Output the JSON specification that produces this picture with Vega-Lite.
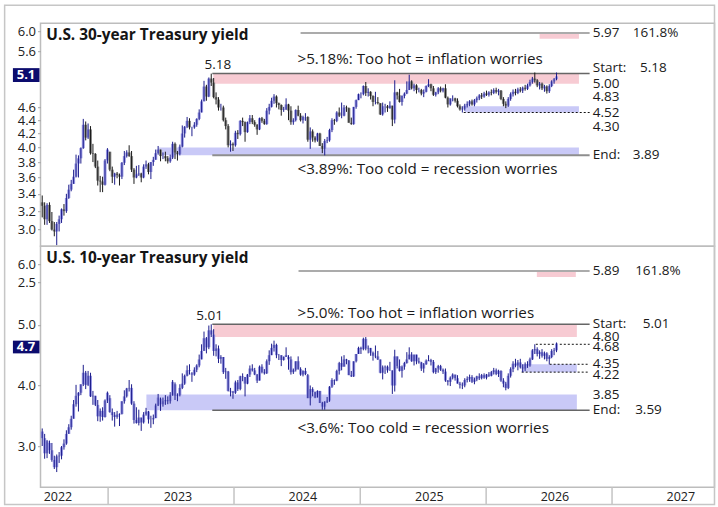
{
  "$schema": "https://vega.github.io/schema/vega-lite/v6.json",
  "padding": {"left": 2.5, "top": 3.2, "right": 4, "bottom": 3},
  "bounds": "flush",
  "spacing": 0,
  "background": "white",
  "config": {
    "view": {"stroke": "#bdbdbd", "strokeWidth": 1.5},
    "font": "Open Sans",
    "text": {"font": "Open Sans", "fontSize": 13.5, "color": "#1a1a1a"}
  },
  "datasets": {
    "t30": [
      {"d":"2022-06-24","o":3.30,"h":3.38,"l":3.13,"c":3.26},
      {"d":"2022-07-01","o":3.26,"h":3.30,"l":3.05,"c":3.11},
      {"d":"2022-07-08","o":3.11,"h":3.29,"l":3.05,"c":3.27},
      {"d":"2022-07-15","o":3.27,"h":3.30,"l":3.07,"c":3.09},
      {"d":"2022-07-22","o":3.09,"h":3.19,"l":2.99,"c":3.00},
      {"d":"2022-07-29","o":3.00,"h":3.08,"l":2.93,"c":2.98},
      {"d":"2022-08-05","o":2.98,"h":3.08,"l":2.84,"c":3.06},
      {"d":"2022-08-12","o":3.06,"h":3.15,"l":2.98,"c":3.11},
      {"d":"2022-08-19","o":3.11,"h":3.23,"l":3.07,"c":3.22},
      {"d":"2022-08-26","o":3.22,"h":3.28,"l":3.15,"c":3.20},
      {"d":"2022-09-02","o":3.20,"h":3.40,"l":3.18,"c":3.35},
      {"d":"2022-09-09","o":3.35,"h":3.51,"l":3.34,"c":3.45},
      {"d":"2022-09-16","o":3.45,"h":3.57,"l":3.43,"c":3.52},
      {"d":"2022-09-23","o":3.52,"h":3.70,"l":3.52,"c":3.61},
      {"d":"2022-09-30","o":3.61,"h":3.90,"l":3.60,"c":3.78},
      {"d":"2022-10-07","o":3.78,"h":3.89,"l":3.60,"c":3.85},
      {"d":"2022-10-14","o":3.85,"h":4.00,"l":3.78,"c":3.99},
      {"d":"2022-10-21","o":3.99,"h":4.42,"l":3.98,"c":4.33},
      {"d":"2022-10-28","o":4.33,"h":4.38,"l":4.10,"c":4.14},
      {"d":"2022-11-04","o":4.14,"h":4.35,"l":4.12,"c":4.26},
      {"d":"2022-11-11","o":4.26,"h":4.31,"l":3.90,"c":3.92},
      {"d":"2022-11-18","o":3.92,"h":4.05,"l":3.80,"c":3.91},
      {"d":"2022-11-25","o":3.91,"h":3.92,"l":3.72,"c":3.74},
      {"d":"2022-12-02","o":3.74,"h":3.82,"l":3.50,"c":3.56},
      {"d":"2022-12-09","o":3.56,"h":3.62,"l":3.42,"c":3.55},
      {"d":"2022-12-16","o":3.55,"h":3.61,"l":3.42,"c":3.51},
      {"d":"2022-12-23","o":3.51,"h":3.84,"l":3.50,"c":3.82},
      {"d":"2022-12-30","o":3.82,"h":3.99,"l":3.78,"c":3.97},
      {"d":"2023-01-06","o":3.94,"h":3.94,"l":3.68,"c":3.70},
      {"d":"2023-01-13","o":3.70,"h":3.74,"l":3.53,"c":3.61},
      {"d":"2023-01-20","o":3.61,"h":3.66,"l":3.51,"c":3.65},
      {"d":"2023-01-27","o":3.65,"h":3.67,"l":3.59,"c":3.63},
      {"d":"2023-02-03","o":3.63,"h":3.65,"l":3.50,"c":3.61},
      {"d":"2023-02-10","o":3.61,"h":3.80,"l":3.58,"c":3.79},
      {"d":"2023-02-17","o":3.79,"h":3.95,"l":3.76,"c":3.88},
      {"d":"2023-02-24","o":3.88,"h":3.96,"l":3.86,"c":3.93},
      {"d":"2023-03-03","o":3.93,"h":4.03,"l":3.87,"c":3.88},
      {"d":"2023-03-10","o":3.88,"h":3.95,"l":3.67,"c":3.70},
      {"d":"2023-03-17","o":3.70,"h":3.72,"l":3.52,"c":3.60},
      {"d":"2023-03-24","o":3.60,"h":3.75,"l":3.59,"c":3.64},
      {"d":"2023-03-31","o":3.64,"h":3.76,"l":3.62,"c":3.65},
      {"d":"2023-04-07","o":3.65,"h":3.66,"l":3.54,"c":3.60},
      {"d":"2023-04-14","o":3.60,"h":3.77,"l":3.59,"c":3.74},
      {"d":"2023-04-21","o":3.74,"h":3.82,"l":3.71,"c":3.77},
      {"d":"2023-04-28","o":3.77,"h":3.79,"l":3.64,"c":3.67},
      {"d":"2023-05-05","o":3.67,"h":3.80,"l":3.58,"c":3.80},
      {"d":"2023-05-12","o":3.80,"h":3.87,"l":3.75,"c":3.83},
      {"d":"2023-05-19","o":3.83,"h":3.97,"l":3.83,"c":3.92},
      {"d":"2023-05-26","o":3.92,"h":4.02,"l":3.90,"c":3.97},
      {"d":"2023-06-02","o":3.97,"h":3.97,"l":3.81,"c":3.88},
      {"d":"2023-06-09","o":3.88,"h":3.93,"l":3.84,"c":3.88},
      {"d":"2023-06-16","o":3.88,"h":3.94,"l":3.81,"c":3.85},
      {"d":"2023-06-23","o":3.85,"h":3.88,"l":3.78,"c":3.81},
      {"d":"2023-06-30","o":3.81,"h":3.90,"l":3.79,"c":3.86},
      {"d":"2023-07-07","o":3.86,"h":4.08,"l":3.84,"c":4.05},
      {"d":"2023-07-14","o":4.05,"h":4.07,"l":3.84,"c":3.93},
      {"d":"2023-07-21","o":3.93,"h":3.95,"l":3.82,"c":3.91},
      {"d":"2023-07-28","o":3.91,"h":4.04,"l":3.89,"c":4.01},
      {"d":"2023-08-04","o":4.01,"h":4.32,"l":4.00,"c":4.20},
      {"d":"2023-08-11","o":4.20,"h":4.31,"l":4.14,"c":4.30},
      {"d":"2023-08-18","o":4.30,"h":4.45,"l":4.28,"c":4.39},
      {"d":"2023-08-25","o":4.39,"h":4.43,"l":4.26,"c":4.29},
      {"d":"2023-09-01","o":4.29,"h":4.30,"l":4.16,"c":4.29},
      {"d":"2023-09-08","o":4.29,"h":4.37,"l":4.27,"c":4.33},
      {"d":"2023-09-15","o":4.33,"h":4.43,"l":4.30,"c":4.42},
      {"d":"2023-09-22","o":4.42,"h":4.57,"l":4.40,"c":4.52},
      {"d":"2023-09-29","o":4.52,"h":4.73,"l":4.52,"c":4.70},
      {"d":"2023-10-06","o":4.70,"h":5.05,"l":4.70,"c":4.95},
      {"d":"2023-10-13","o":4.95,"h":4.98,"l":4.71,"c":4.78},
      {"d":"2023-10-20","o":4.78,"h":5.11,"l":4.77,"c":5.09},
      {"d":"2023-10-27","o":5.09,"h":5.18,"l":4.96,"c":5.02},
      {"d":"2023-11-03","o":5.02,"h":5.10,"l":4.75,"c":4.77},
      {"d":"2023-11-10","o":4.77,"h":4.85,"l":4.65,"c":4.73},
      {"d":"2023-11-17","o":4.73,"h":4.77,"l":4.55,"c":4.60},
      {"d":"2023-11-24","o":4.60,"h":4.66,"l":4.55,"c":4.60},
      {"d":"2023-12-01","o":4.60,"h":4.63,"l":4.38,"c":4.40},
      {"d":"2023-12-08","o":4.40,"h":4.44,"l":4.26,"c":4.31},
      {"d":"2023-12-15","o":4.31,"h":4.34,"l":4.00,"c":4.03},
      {"d":"2023-12-22","o":4.03,"h":4.10,"l":3.94,"c":4.05},
      {"d":"2023-12-29","o":4.05,"h":4.07,"l":3.95,"c":4.03},
      {"d":"2024-01-05","o":4.03,"h":4.24,"l":4.01,"c":4.21},
      {"d":"2024-01-12","o":4.21,"h":4.25,"l":4.12,"c":4.19},
      {"d":"2024-01-19","o":4.19,"h":4.40,"l":4.17,"c":4.39},
      {"d":"2024-01-26","o":4.39,"h":4.44,"l":4.31,"c":4.37},
      {"d":"2024-02-02","o":4.37,"h":4.38,"l":4.08,"c":4.22},
      {"d":"2024-02-09","o":4.22,"h":4.38,"l":4.21,"c":4.37},
      {"d":"2024-02-16","o":4.37,"h":4.48,"l":4.34,"c":4.43},
      {"d":"2024-02-23","o":4.43,"h":4.48,"l":4.34,"c":4.37},
      {"d":"2024-03-01","o":4.37,"h":4.40,"l":4.30,"c":4.33},
      {"d":"2024-03-08","o":4.33,"h":4.34,"l":4.18,"c":4.26},
      {"d":"2024-03-15","o":4.26,"h":4.44,"l":4.25,"c":4.43},
      {"d":"2024-03-22","o":4.43,"h":4.45,"l":4.36,"c":4.39},
      {"d":"2024-03-29","o":4.39,"h":4.42,"l":4.33,"c":4.34},
      {"d":"2024-04-05","o":4.34,"h":4.59,"l":4.33,"c":4.55},
      {"d":"2024-04-12","o":4.55,"h":4.66,"l":4.49,"c":4.61},
      {"d":"2024-04-19","o":4.61,"h":4.76,"l":4.60,"c":4.71},
      {"d":"2024-04-26","o":4.71,"h":4.82,"l":4.66,"c":4.78},
      {"d":"2024-05-03","o":4.78,"h":4.80,"l":4.60,"c":4.67},
      {"d":"2024-05-10","o":4.67,"h":4.68,"l":4.57,"c":4.64},
      {"d":"2024-05-17","o":4.64,"h":4.65,"l":4.47,"c":4.56},
      {"d":"2024-05-24","o":4.56,"h":4.61,"l":4.53,"c":4.57},
      {"d":"2024-05-31","o":4.57,"h":4.75,"l":4.56,"c":4.65},
      {"d":"2024-06-07","o":4.65,"h":4.66,"l":4.40,"c":4.55},
      {"d":"2024-06-14","o":4.55,"h":4.62,"l":4.33,"c":4.37},
      {"d":"2024-06-21","o":4.37,"h":4.43,"l":4.33,"c":4.40},
      {"d":"2024-06-28","o":4.40,"h":4.57,"l":4.38,"c":4.56},
      {"d":"2024-07-05","o":4.56,"h":4.63,"l":4.46,"c":4.47},
      {"d":"2024-07-12","o":4.47,"h":4.51,"l":4.38,"c":4.40},
      {"d":"2024-07-19","o":4.40,"h":4.47,"l":4.35,"c":4.45},
      {"d":"2024-07-26","o":4.45,"h":4.51,"l":4.39,"c":4.45},
      {"d":"2024-08-02","o":4.45,"h":4.46,"l":4.08,"c":4.11},
      {"d":"2024-08-09","o":4.11,"h":4.29,"l":3.98,"c":4.23},
      {"d":"2024-08-16","o":4.23,"h":4.26,"l":4.08,"c":4.14},
      {"d":"2024-08-23","o":4.14,"h":4.16,"l":4.07,"c":4.10},
      {"d":"2024-08-30","o":4.10,"h":4.21,"l":4.08,"c":4.20},
      {"d":"2024-09-06","o":4.20,"h":4.21,"l":4.02,"c":4.02},
      {"d":"2024-09-13","o":4.02,"h":4.06,"l":3.92,"c":3.98},
      {"d":"2024-09-20","o":3.98,"h":4.12,"l":3.89,"c":4.09},
      {"d":"2024-09-27","o":4.09,"h":4.15,"l":4.06,"c":4.10},
      {"d":"2024-10-04","o":4.10,"h":4.27,"l":4.08,"c":4.25},
      {"d":"2024-10-11","o":4.25,"h":4.43,"l":4.22,"c":4.40},
      {"d":"2024-10-18","o":4.40,"h":4.42,"l":4.33,"c":4.39},
      {"d":"2024-10-25","o":4.39,"h":4.54,"l":4.37,"c":4.52},
      {"d":"2024-11-01","o":4.52,"h":4.60,"l":4.45,"c":4.47},
      {"d":"2024-11-08","o":4.47,"h":4.68,"l":4.43,"c":4.47},
      {"d":"2024-11-15","o":4.47,"h":4.64,"l":4.46,"c":4.60},
      {"d":"2024-11-22","o":4.60,"h":4.63,"l":4.53,"c":4.59},
      {"d":"2024-11-29","o":4.59,"h":4.60,"l":4.36,"c":4.36},
      {"d":"2024-12-06","o":4.36,"h":4.44,"l":4.33,"c":4.34},
      {"d":"2024-12-13","o":4.34,"h":4.61,"l":4.33,"c":4.61},
      {"d":"2024-12-20","o":4.61,"h":4.73,"l":4.58,"c":4.72},
      {"d":"2024-12-27","o":4.72,"h":4.83,"l":4.72,"c":4.82},
      {"d":"2025-01-03","o":4.82,"h":4.85,"l":4.75,"c":4.82},
      {"d":"2025-01-10","o":4.82,"h":4.97,"l":4.80,"c":4.96},
      {"d":"2025-01-17","o":4.96,"h":5.03,"l":4.79,"c":4.84},
      {"d":"2025-01-24","o":4.84,"h":4.92,"l":4.78,"c":4.86},
      {"d":"2025-01-31","o":4.86,"h":4.87,"l":4.73,"c":4.79},
      {"d":"2025-02-07","o":4.79,"h":4.80,"l":4.62,"c":4.69},
      {"d":"2025-02-14","o":4.69,"h":4.86,"l":4.65,"c":4.69},
      {"d":"2025-02-21","o":4.69,"h":4.77,"l":4.65,"c":4.67},
      {"d":"2025-02-28","o":4.67,"h":4.67,"l":4.48,"c":4.49},
      {"d":"2025-03-07","o":4.49,"h":4.68,"l":4.47,"c":4.62},
      {"d":"2025-03-14","o":4.62,"h":4.66,"l":4.52,"c":4.62},
      {"d":"2025-03-21","o":4.62,"h":4.64,"l":4.53,"c":4.59},
      {"d":"2025-03-28","o":4.59,"h":4.70,"l":4.58,"c":4.63},
      {"d":"2025-04-04","o":4.63,"h":4.63,"l":4.31,"c":4.41},
      {"d":"2025-04-11","o":4.41,"h":5.06,"l":4.35,"c":4.85},
      {"d":"2025-04-18","o":4.85,"h":4.86,"l":4.73,"c":4.80},
      {"d":"2025-04-25","o":4.80,"h":4.91,"l":4.68,"c":4.69},
      {"d":"2025-05-02","o":4.69,"h":4.80,"l":4.63,"c":4.79},
      {"d":"2025-05-09","o":4.79,"h":4.85,"l":4.75,"c":4.83},
      {"d":"2025-05-16","o":4.83,"h":5.04,"l":4.82,"c":4.89},
      {"d":"2025-05-23","o":4.89,"h":5.16,"l":4.89,"c":5.04},
      {"d":"2025-05-30","o":5.04,"h":5.06,"l":4.90,"c":4.92},
      {"d":"2025-06-06","o":4.92,"h":5.00,"l":4.87,"c":4.97},
      {"d":"2025-06-13","o":4.97,"h":4.99,"l":4.83,"c":4.89},
      {"d":"2025-06-20","o":4.89,"h":4.93,"l":4.85,"c":4.89},
      {"d":"2025-06-27","o":4.89,"h":4.91,"l":4.80,"c":4.83},
      {"d":"2025-07-04","o":4.83,"h":4.90,"l":4.77,"c":4.86},
      {"d":"2025-07-11","o":4.86,"h":4.97,"l":4.85,"c":4.96},
      {"d":"2025-07-18","o":4.96,"h":5.08,"l":4.94,"c":4.99},
      {"d":"2025-07-25","o":4.99,"h":5.00,"l":4.87,"c":4.92},
      {"d":"2025-08-01","o":4.92,"h":4.96,"l":4.79,"c":4.81},
      {"d":"2025-08-08","o":4.81,"h":4.86,"l":4.78,"c":4.85},
      {"d":"2025-08-15","o":4.85,"h":4.94,"l":4.82,"c":4.92},
      {"d":"2025-08-22","o":4.92,"h":4.95,"l":4.85,"c":4.88},
      {"d":"2025-08-29","o":4.88,"h":4.93,"l":4.85,"c":4.92},
      {"d":"2025-09-05","o":4.92,"h":4.99,"l":4.75,"c":4.76},
      {"d":"2025-09-12","o":4.76,"h":4.78,"l":4.60,"c":4.65},
      {"d":"2025-09-19","o":4.65,"h":4.75,"l":4.63,"c":4.75},
      {"d":"2025-09-26","o":4.75,"h":4.80,"l":4.70,"c":4.75},
      {"d":"2025-10-03","o":4.75,"h":4.76,"l":4.68,"c":4.71},
      {"d":"2025-10-10","o":4.71,"h":4.75,"l":4.60,"c":4.62},
      {"d":"2025-10-17","o":4.62,"h":4.65,"l":4.55,"c":4.57},
      {"d":"2025-10-24","o":4.57,"h":4.62,"l":4.52,"c":4.58},
      {"d":"2025-10-31","o":4.58,"h":4.66,"l":4.55,"c":4.63},
      {"d":"2025-11-07","o":4.63,"h":4.70,"l":4.60,"c":4.66},
      {"d":"2025-11-14","o":4.66,"h":4.72,"l":4.62,"c":4.70},
      {"d":"2025-11-21","o":4.70,"h":4.73,"l":4.63,"c":4.65},
      {"d":"2025-11-28","o":4.65,"h":4.74,"l":4.62,"c":4.72},
      {"d":"2025-12-05","o":4.72,"h":4.78,"l":4.68,"c":4.75},
      {"d":"2025-12-12","o":4.75,"h":4.82,"l":4.72,"c":4.80},
      {"d":"2025-12-19","o":4.80,"h":4.84,"l":4.74,"c":4.78},
      {"d":"2025-12-26","o":4.78,"h":4.86,"l":4.76,"c":4.83},
      {"d":"2026-01-02","o":4.83,"h":4.88,"l":4.79,"c":4.81},
      {"d":"2026-01-09","o":4.81,"h":4.87,"l":4.78,"c":4.85},
      {"d":"2026-01-16","o":4.85,"h":4.90,"l":4.80,"c":4.84},
      {"d":"2026-01-23","o":4.84,"h":4.92,"l":4.82,"c":4.89},
      {"d":"2026-01-30","o":4.89,"h":4.93,"l":4.83,"c":4.86},
      {"d":"2026-02-06","o":4.86,"h":4.91,"l":4.80,"c":4.88},
      {"d":"2026-02-13","o":4.88,"h":4.89,"l":4.72,"c":4.74},
      {"d":"2026-02-20","o":4.74,"h":4.77,"l":4.62,"c":4.66},
      {"d":"2026-02-27","o":4.66,"h":4.70,"l":4.59,"c":4.63},
      {"d":"2026-03-06","o":4.63,"h":4.77,"l":4.61,"c":4.74},
      {"d":"2026-03-13","o":4.74,"h":4.85,"l":4.71,"c":4.82},
      {"d":"2026-03-20","o":4.82,"h":4.90,"l":4.78,"c":4.86},
      {"d":"2026-03-27","o":4.86,"h":4.91,"l":4.80,"c":4.84},
      {"d":"2026-04-03","o":4.84,"h":4.93,"l":4.82,"c":4.90},
      {"d":"2026-04-10","o":4.90,"h":4.94,"l":4.85,"c":4.88},
      {"d":"2026-04-17","o":4.88,"h":4.95,"l":4.84,"c":4.93},
      {"d":"2026-04-24","o":4.93,"h":4.98,"l":4.88,"c":4.91},
      {"d":"2026-05-01","o":4.91,"h":5.00,"l":4.89,"c":4.97},
      {"d":"2026-05-08","o":4.97,"h":5.07,"l":4.95,"c":5.03},
      {"d":"2026-05-15","o":5.03,"h":5.12,"l":5.00,"c":5.09},
      {"d":"2026-05-22","o":5.09,"h":5.20,"l":5.02,"c":5.06},
      {"d":"2026-05-29","o":5.06,"h":5.08,"l":4.94,"c":4.97},
      {"d":"2026-06-05","o":4.97,"h":5.03,"l":4.90,"c":5.00},
      {"d":"2026-06-12","o":5.00,"h":5.02,"l":4.89,"c":4.92},
      {"d":"2026-06-19","o":4.92,"h":4.98,"l":4.86,"c":4.95},
      {"d":"2026-06-26","o":4.95,"h":4.97,"l":4.83,"c":4.87},
      {"d":"2026-07-03","o":4.87,"h":4.99,"l":4.84,"c":4.96},
      {"d":"2026-07-10","o":4.96,"h":5.06,"l":4.94,"c":5.04},
      {"d":"2026-07-17","o":5.04,"h":5.10,"l":5.00,"c":5.08},
      {"d":"2026-07-24","o":5.08,"h":5.20,"l":5.06,"c":5.13}
    ],
    "t10": [
      {"d":"2022-06-24","o":3.24,"h":3.29,"l":3.00,"c":3.13},
      {"d":"2022-07-01","o":3.13,"h":3.20,"l":2.79,"c":2.88},
      {"d":"2022-07-08","o":2.88,"h":3.10,"l":2.80,"c":3.08},
      {"d":"2022-07-15","o":3.05,"h":3.09,"l":2.87,"c":2.93},
      {"d":"2022-07-22","o":2.93,"h":3.05,"l":2.74,"c":2.77},
      {"d":"2022-07-29","o":2.77,"h":2.84,"l":2.62,"c":2.65},
      {"d":"2022-08-05","o":2.65,"h":2.86,"l":2.57,"c":2.83},
      {"d":"2022-08-12","o":2.83,"h":2.90,"l":2.72,"c":2.84},
      {"d":"2022-08-19","o":2.84,"h":3.00,"l":2.78,"c":2.98},
      {"d":"2022-08-26","o":2.98,"h":3.11,"l":2.94,"c":3.04},
      {"d":"2022-09-02","o":3.04,"h":3.26,"l":3.02,"c":3.20},
      {"d":"2022-09-09","o":3.20,"h":3.36,"l":3.20,"c":3.31},
      {"d":"2022-09-16","o":3.31,"h":3.50,"l":3.27,"c":3.45},
      {"d":"2022-09-23","o":3.45,"h":3.76,"l":3.45,"c":3.69},
      {"d":"2022-09-30","o":3.69,"h":4.01,"l":3.65,"c":3.83},
      {"d":"2022-10-07","o":3.83,"h":3.89,"l":3.57,"c":3.88},
      {"d":"2022-10-14","o":3.88,"h":4.02,"l":3.84,"c":4.02},
      {"d":"2022-10-21","o":4.02,"h":4.34,"l":3.99,"c":4.21},
      {"d":"2022-10-28","o":4.21,"h":4.24,"l":3.94,"c":4.01},
      {"d":"2022-11-04","o":4.01,"h":4.24,"l":3.99,"c":4.16},
      {"d":"2022-11-11","o":4.16,"h":4.21,"l":3.81,"c":3.82},
      {"d":"2022-11-18","o":3.82,"h":3.91,"l":3.68,"c":3.83},
      {"d":"2022-11-25","o":3.83,"h":3.83,"l":3.66,"c":3.68},
      {"d":"2022-12-02","o":3.68,"h":3.76,"l":3.41,"c":3.49},
      {"d":"2022-12-09","o":3.49,"h":3.62,"l":3.40,"c":3.58},
      {"d":"2022-12-16","o":3.58,"h":3.64,"l":3.42,"c":3.48},
      {"d":"2022-12-23","o":3.48,"h":3.77,"l":3.47,"c":3.75},
      {"d":"2022-12-30","o":3.75,"h":3.90,"l":3.71,"c":3.88},
      {"d":"2023-01-06","o":3.79,"h":3.84,"l":3.55,"c":3.56},
      {"d":"2023-01-13","o":3.56,"h":3.62,"l":3.42,"c":3.51},
      {"d":"2023-01-20","o":3.51,"h":3.56,"l":3.32,"c":3.48},
      {"d":"2023-01-27","o":3.48,"h":3.58,"l":3.45,"c":3.52},
      {"d":"2023-02-03","o":3.52,"h":3.54,"l":3.33,"c":3.53},
      {"d":"2023-02-10","o":3.53,"h":3.74,"l":3.52,"c":3.74},
      {"d":"2023-02-17","o":3.74,"h":3.92,"l":3.70,"c":3.82},
      {"d":"2023-02-24","o":3.82,"h":3.96,"l":3.80,"c":3.95},
      {"d":"2023-03-03","o":3.95,"h":4.09,"l":3.90,"c":3.96},
      {"d":"2023-03-10","o":3.96,"h":4.02,"l":3.68,"c":3.70},
      {"d":"2023-03-17","o":3.70,"h":3.74,"l":3.37,"c":3.43},
      {"d":"2023-03-24","o":3.43,"h":3.64,"l":3.37,"c":3.38},
      {"d":"2023-03-31","o":3.38,"h":3.60,"l":3.34,"c":3.47},
      {"d":"2023-04-07","o":3.47,"h":3.47,"l":3.25,"c":3.39},
      {"d":"2023-04-14","o":3.39,"h":3.56,"l":3.37,"c":3.52},
      {"d":"2023-04-21","o":3.52,"h":3.63,"l":3.50,"c":3.57},
      {"d":"2023-04-28","o":3.57,"h":3.58,"l":3.37,"c":3.44},
      {"d":"2023-05-05","o":3.44,"h":3.50,"l":3.30,"c":3.44},
      {"d":"2023-05-12","o":3.44,"h":3.52,"l":3.36,"c":3.46},
      {"d":"2023-05-19","o":3.46,"h":3.70,"l":3.46,"c":3.67},
      {"d":"2023-05-26","o":3.67,"h":3.86,"l":3.66,"c":3.80},
      {"d":"2023-06-02","o":3.78,"h":3.80,"l":3.58,"c":3.69},
      {"d":"2023-06-09","o":3.69,"h":3.80,"l":3.65,"c":3.74},
      {"d":"2023-06-16","o":3.74,"h":3.84,"l":3.68,"c":3.76},
      {"d":"2023-06-23","o":3.76,"h":3.82,"l":3.69,"c":3.74},
      {"d":"2023-06-30","o":3.74,"h":3.89,"l":3.70,"c":3.84},
      {"d":"2023-07-07","o":3.84,"h":4.09,"l":3.83,"c":4.06},
      {"d":"2023-07-14","o":4.02,"h":4.05,"l":3.76,"c":3.83},
      {"d":"2023-07-21","o":3.83,"h":3.87,"l":3.74,"c":3.84},
      {"d":"2023-07-28","o":3.84,"h":4.02,"l":3.82,"c":3.96},
      {"d":"2023-08-04","o":3.96,"h":4.20,"l":3.94,"c":4.03},
      {"d":"2023-08-11","o":4.03,"h":4.18,"l":4.01,"c":4.16},
      {"d":"2023-08-18","o":4.16,"h":4.33,"l":4.15,"c":4.25},
      {"d":"2023-08-25","o":4.25,"h":4.35,"l":4.18,"c":4.24},
      {"d":"2023-09-01","o":4.20,"h":4.22,"l":4.06,"c":4.18},
      {"d":"2023-09-08","o":4.18,"h":4.30,"l":4.16,"c":4.26},
      {"d":"2023-09-15","o":4.26,"h":4.35,"l":4.22,"c":4.33},
      {"d":"2023-09-22","o":4.33,"h":4.51,"l":4.30,"c":4.43},
      {"d":"2023-09-29","o":4.43,"h":4.68,"l":4.43,"c":4.57},
      {"d":"2023-10-06","o":4.57,"h":4.89,"l":4.57,"c":4.78},
      {"d":"2023-10-13","o":4.78,"h":4.80,"l":4.53,"c":4.63},
      {"d":"2023-10-20","o":4.63,"h":4.99,"l":4.60,"c":4.91},
      {"d":"2023-10-27","o":4.91,"h":5.01,"l":4.80,"c":4.84},
      {"d":"2023-11-03","o":4.84,"h":4.93,"l":4.49,"c":4.57},
      {"d":"2023-11-10","o":4.57,"h":4.68,"l":4.48,"c":4.61},
      {"d":"2023-11-17","o":4.61,"h":4.66,"l":4.37,"c":4.44},
      {"d":"2023-11-24","o":4.44,"h":4.50,"l":4.36,"c":4.47},
      {"d":"2023-12-01","o":4.47,"h":4.47,"l":4.19,"c":4.22},
      {"d":"2023-12-08","o":4.22,"h":4.29,"l":4.11,"c":4.23},
      {"d":"2023-12-15","o":4.23,"h":4.24,"l":3.90,"c":3.91},
      {"d":"2023-12-22","o":3.91,"h":3.96,"l":3.82,"c":3.90},
      {"d":"2023-12-29","o":3.90,"h":3.91,"l":3.78,"c":3.88},
      {"d":"2024-01-05","o":3.88,"h":4.08,"l":3.86,"c":4.05},
      {"d":"2024-01-12","o":4.05,"h":4.09,"l":3.91,"c":3.94},
      {"d":"2024-01-19","o":3.94,"h":4.16,"l":3.92,"c":4.15},
      {"d":"2024-01-26","o":4.15,"h":4.20,"l":4.07,"c":4.14},
      {"d":"2024-02-02","o":4.14,"h":4.14,"l":3.82,"c":4.03},
      {"d":"2024-02-09","o":4.03,"h":4.19,"l":4.02,"c":4.18},
      {"d":"2024-02-16","o":4.18,"h":4.33,"l":4.14,"c":4.28},
      {"d":"2024-02-23","o":4.28,"h":4.35,"l":4.23,"c":4.25},
      {"d":"2024-03-01","o":4.25,"h":4.29,"l":4.17,"c":4.18},
      {"d":"2024-03-08","o":4.18,"h":4.19,"l":4.04,"c":4.08},
      {"d":"2024-03-15","o":4.08,"h":4.33,"l":4.08,"c":4.31},
      {"d":"2024-03-22","o":4.31,"h":4.35,"l":4.20,"c":4.22},
      {"d":"2024-03-29","o":4.22,"h":4.27,"l":4.18,"c":4.20},
      {"d":"2024-04-05","o":4.20,"h":4.43,"l":4.19,"c":4.40},
      {"d":"2024-04-12","o":4.40,"h":4.58,"l":4.34,"c":4.50},
      {"d":"2024-04-19","o":4.50,"h":4.69,"l":4.50,"c":4.62},
      {"d":"2024-04-26","o":4.62,"h":4.74,"l":4.56,"c":4.67},
      {"d":"2024-05-03","o":4.67,"h":4.69,"l":4.45,"c":4.50},
      {"d":"2024-05-10","o":4.50,"h":4.52,"l":4.42,"c":4.50},
      {"d":"2024-05-17","o":4.50,"h":4.50,"l":4.32,"c":4.42},
      {"d":"2024-05-24","o":4.42,"h":4.48,"l":4.41,"c":4.47},
      {"d":"2024-05-31","o":4.47,"h":4.63,"l":4.47,"c":4.50},
      {"d":"2024-06-07","o":4.47,"h":4.50,"l":4.26,"c":4.43},
      {"d":"2024-06-14","o":4.43,"h":4.48,"l":4.18,"c":4.22},
      {"d":"2024-06-21","o":4.22,"h":4.28,"l":4.19,"c":4.26},
      {"d":"2024-06-28","o":4.26,"h":4.40,"l":4.23,"c":4.40},
      {"d":"2024-07-05","o":4.40,"h":4.48,"l":4.26,"c":4.27},
      {"d":"2024-07-12","o":4.27,"h":4.30,"l":4.16,"c":4.18},
      {"d":"2024-07-19","o":4.18,"h":4.25,"l":4.15,"c":4.24},
      {"d":"2024-07-26","o":4.24,"h":4.29,"l":4.17,"c":4.19},
      {"d":"2024-08-02","o":4.17,"h":4.19,"l":3.79,"c":3.79},
      {"d":"2024-08-09","o":3.79,"h":4.00,"l":3.67,"c":3.94},
      {"d":"2024-08-16","o":3.94,"h":3.97,"l":3.82,"c":3.89},
      {"d":"2024-08-23","o":3.89,"h":3.90,"l":3.79,"c":3.80},
      {"d":"2024-08-30","o":3.80,"h":3.92,"l":3.80,"c":3.91},
      {"d":"2024-09-06","o":3.91,"h":3.91,"l":3.71,"c":3.71},
      {"d":"2024-09-13","o":3.71,"h":3.73,"l":3.60,"c":3.65},
      {"d":"2024-09-20","o":3.65,"h":3.74,"l":3.60,"c":3.73},
      {"d":"2024-09-27","o":3.73,"h":3.81,"l":3.71,"c":3.75},
      {"d":"2024-10-04","o":3.75,"h":3.99,"l":3.73,"c":3.98},
      {"d":"2024-10-11","o":3.98,"h":4.12,"l":3.96,"c":4.09},
      {"d":"2024-10-18","o":4.09,"h":4.10,"l":4.01,"c":4.08},
      {"d":"2024-10-25","o":4.08,"h":4.26,"l":4.07,"c":4.24},
      {"d":"2024-11-01","o":4.24,"h":4.39,"l":4.18,"c":4.37},
      {"d":"2024-11-08","o":4.37,"h":4.48,"l":4.25,"c":4.31},
      {"d":"2024-11-15","o":4.31,"h":4.50,"l":4.31,"c":4.43},
      {"d":"2024-11-22","o":4.43,"h":4.44,"l":4.35,"c":4.41},
      {"d":"2024-11-29","o":4.41,"h":4.42,"l":4.17,"c":4.17},
      {"d":"2024-12-06","o":4.17,"h":4.24,"l":4.14,"c":4.15},
      {"d":"2024-12-13","o":4.15,"h":4.40,"l":4.14,"c":4.40},
      {"d":"2024-12-20","o":4.40,"h":4.52,"l":4.38,"c":4.52},
      {"d":"2024-12-27","o":4.52,"h":4.64,"l":4.52,"c":4.62},
      {"d":"2025-01-03","o":4.62,"h":4.64,"l":4.52,"c":4.60},
      {"d":"2025-01-10","o":4.60,"h":4.79,"l":4.58,"c":4.77},
      {"d":"2025-01-17","o":4.77,"h":4.80,"l":4.58,"c":4.61},
      {"d":"2025-01-24","o":4.61,"h":4.66,"l":4.53,"c":4.62},
      {"d":"2025-01-31","o":4.62,"h":4.62,"l":4.49,"c":4.54},
      {"d":"2025-02-07","o":4.54,"h":4.56,"l":4.41,"c":4.49},
      {"d":"2025-02-14","o":4.49,"h":4.66,"l":4.45,"c":4.48},
      {"d":"2025-02-21","o":4.48,"h":4.57,"l":4.42,"c":4.43},
      {"d":"2025-02-28","o":4.43,"h":4.43,"l":4.20,"c":4.21},
      {"d":"2025-03-07","o":4.21,"h":4.33,"l":4.10,"c":4.30},
      {"d":"2025-03-14","o":4.30,"h":4.33,"l":4.19,"c":4.31},
      {"d":"2025-03-21","o":4.31,"h":4.33,"l":4.21,"c":4.25},
      {"d":"2025-03-28","o":4.25,"h":4.39,"l":4.24,"c":4.25},
      {"d":"2025-04-04","o":4.25,"h":4.25,"l":3.86,"c":4.00},
      {"d":"2025-04-11","o":4.00,"h":4.59,"l":3.90,"c":4.48},
      {"d":"2025-04-18","o":4.48,"h":4.48,"l":4.28,"c":4.32},
      {"d":"2025-04-25","o":4.32,"h":4.43,"l":4.23,"c":4.24},
      {"d":"2025-05-02","o":4.24,"h":4.33,"l":4.13,"c":4.31},
      {"d":"2025-05-09","o":4.31,"h":4.39,"l":4.26,"c":4.37},
      {"d":"2025-05-16","o":4.37,"h":4.55,"l":4.36,"c":4.43},
      {"d":"2025-05-23","o":4.43,"h":4.63,"l":4.43,"c":4.51},
      {"d":"2025-05-30","o":4.51,"h":4.55,"l":4.39,"c":4.40},
      {"d":"2025-06-06","o":4.40,"h":4.51,"l":4.33,"c":4.51},
      {"d":"2025-06-13","o":4.51,"h":4.51,"l":4.35,"c":4.40},
      {"d":"2025-06-20","o":4.40,"h":4.46,"l":4.36,"c":4.38},
      {"d":"2025-06-27","o":4.38,"h":4.39,"l":4.24,"c":4.28},
      {"d":"2025-07-04","o":4.28,"h":4.37,"l":4.21,"c":4.35},
      {"d":"2025-07-11","o":4.35,"h":4.43,"l":4.34,"c":4.41},
      {"d":"2025-07-18","o":4.41,"h":4.50,"l":4.40,"c":4.42},
      {"d":"2025-07-25","o":4.42,"h":4.44,"l":4.33,"c":4.39},
      {"d":"2025-08-01","o":4.39,"h":4.42,"l":4.20,"c":4.22},
      {"d":"2025-08-08","o":4.22,"h":4.29,"l":4.19,"c":4.28},
      {"d":"2025-08-15","o":4.28,"h":4.34,"l":4.21,"c":4.32},
      {"d":"2025-08-22","o":4.32,"h":4.34,"l":4.24,"c":4.26},
      {"d":"2025-08-29","o":4.26,"h":4.28,"l":4.19,"c":4.23},
      {"d":"2025-09-05","o":4.23,"h":4.28,"l":4.06,"c":4.08},
      {"d":"2025-09-12","o":4.08,"h":4.09,"l":4.00,"c":4.06},
      {"d":"2025-09-19","o":4.06,"h":4.15,"l":3.99,"c":4.13},
      {"d":"2025-09-26","o":4.13,"h":4.20,"l":4.10,"c":4.18},
      {"d":"2025-10-03","o":4.18,"h":4.18,"l":4.08,"c":4.12},
      {"d":"2025-10-10","o":4.12,"h":4.17,"l":4.03,"c":4.03},
      {"d":"2025-10-17","o":4.03,"h":4.06,"l":3.95,"c":4.01},
      {"d":"2025-10-24","o":4.01,"h":4.05,"l":3.94,"c":4.00},
      {"d":"2025-10-31","o":4.00,"h":4.12,"l":3.97,"c":4.09},
      {"d":"2025-11-07","o":4.09,"h":4.15,"l":4.05,"c":4.11},
      {"d":"2025-11-14","o":4.11,"h":4.18,"l":4.06,"c":4.14},
      {"d":"2025-11-21","o":4.14,"h":4.17,"l":4.04,"c":4.06},
      {"d":"2025-11-28","o":4.06,"h":4.13,"l":4.02,"c":4.10},
      {"d":"2025-12-05","o":4.10,"h":4.16,"l":4.07,"c":4.15},
      {"d":"2025-12-12","o":4.15,"h":4.20,"l":4.09,"c":4.12},
      {"d":"2025-12-19","o":4.12,"h":4.19,"l":4.10,"c":4.17},
      {"d":"2025-12-26","o":4.17,"h":4.20,"l":4.11,"c":4.13},
      {"d":"2026-01-02","o":4.13,"h":4.19,"l":4.10,"c":4.18},
      {"d":"2026-01-09","o":4.18,"h":4.22,"l":4.14,"c":4.16},
      {"d":"2026-01-16","o":4.16,"h":4.24,"l":4.15,"c":4.22},
      {"d":"2026-01-23","o":4.22,"h":4.29,"l":4.18,"c":4.25},
      {"d":"2026-01-30","o":4.25,"h":4.28,"l":4.17,"c":4.19},
      {"d":"2026-02-06","o":4.19,"h":4.26,"l":4.14,"c":4.24},
      {"d":"2026-02-13","o":4.24,"h":4.25,"l":4.06,"c":4.08},
      {"d":"2026-02-20","o":4.08,"h":4.12,"l":3.97,"c":4.03},
      {"d":"2026-02-27","o":4.03,"h":4.06,"l":3.92,"c":3.96},
      {"d":"2026-03-06","o":3.96,"h":4.20,"l":3.94,"c":4.16},
      {"d":"2026-03-13","o":4.16,"h":4.30,"l":4.13,"c":4.27},
      {"d":"2026-03-20","o":4.27,"h":4.40,"l":4.22,"c":4.36},
      {"d":"2026-03-27","o":4.36,"h":4.44,"l":4.30,"c":4.33},
      {"d":"2026-04-03","o":4.33,"h":4.42,"l":4.25,"c":4.38},
      {"d":"2026-04-10","o":4.38,"h":4.44,"l":4.28,"c":4.30},
      {"d":"2026-04-17","o":4.30,"h":4.35,"l":4.22,"c":4.28},
      {"d":"2026-04-24","o":4.28,"h":4.38,"l":4.24,"c":4.35},
      {"d":"2026-05-01","o":4.35,"h":4.40,"l":4.29,"c":4.33},
      {"d":"2026-05-08","o":4.33,"h":4.46,"l":4.31,"c":4.43},
      {"d":"2026-05-15","o":4.43,"h":4.60,"l":4.42,"c":4.58},
      {"d":"2026-05-22","o":4.58,"h":4.68,"l":4.52,"c":4.60},
      {"d":"2026-05-29","o":4.60,"h":4.63,"l":4.48,"c":4.52},
      {"d":"2026-06-05","o":4.52,"h":4.58,"l":4.44,"c":4.55},
      {"d":"2026-06-12","o":4.55,"h":4.60,"l":4.46,"c":4.49},
      {"d":"2026-06-19","o":4.49,"h":4.56,"l":4.43,"c":4.53},
      {"d":"2026-06-26","o":4.53,"h":4.55,"l":4.40,"c":4.44},
      {"d":"2026-07-03","o":4.44,"h":4.50,"l":4.35,"c":4.47},
      {"d":"2026-07-10","o":4.47,"h":4.60,"l":4.45,"c":4.57},
      {"d":"2026-07-17","o":4.57,"h":4.62,"l":4.50,"c":4.58},
      {"d":"2026-07-24","o":4.58,"h":4.71,"l":4.55,"c":4.69}
    ]
  },
  "vconcat": [
    {
      "width": 674,
      "height": 223,
      "layer": [
        {
          "data": {"values": [
            {"d1":"2023-11-02","d2":"2026-09-27","v1":5.00,"v2":5.18,"z":"hot"},
            {"d1":"2026-06-05","d2":"2026-09-27","v1":5.85,"v2":5.97,"z":"hot"},
            {"d1":"2025-10-31","d2":"2026-09-27","v1":4.52,"v2":4.62,"z":"cold"},
            {"d1":"2023-05-27","d2":"2026-09-27","v1":3.89,"v2":4.00,"z":"cold"}
          ]},
          "mark": {"type": "rect"},
          "encoding": {
            "x": {"field": "d1", "type": "temporal", "axis": null, "scale": {"domain": [{"year":2022,"month":6,"date":19}, {"year":2027,"month":10,"date":25}], "nice": false, "padding": 0}},
            "x2": {"field": "d2"},
            "y": {"field": "v1", "type": "quantitative", "title": null, "scale": {"type": "log", "domain": [2.83, 6.18], "nice": false, "zero": false, "padding": 0},
                  "axis": {"values": [3.0,3.2,3.4,3.6,3.8,4.0,4.2,4.4,4.6,5.6,6.0], "format": ".1f", "tickSize": 3, "tickColor": "#a8a8a8", "labelPadding": 2, "domain": false, "grid": false, "title": null, "labelFontSize": 13, "labelFont": "Open Sans", "labelColor": "#202020", "labelOverlap": false}},
            "y2": {"field": "v2"},
            "color": {"field": "z", "type": "nominal", "scale": {"domain": ["hot","cold"], "range": ["#f7cbd3","#c9c9f7"]}, "legend": null}
          }
        },
        {
          "data": {"values": [{"d1":"2024-07-12","d2":"2026-10-28","v":5.97}]},
          "mark": {"type": "rule", "color": "#ababab", "strokeWidth": 2},
          "encoding": {"x": {"field": "d1", "type": "temporal", "axis": null}, "x2": {"field": "d2"}, "y": {"field": "v", "type": "quantitative", "title": null}}
        },
        {
          "data": {"values": [{"d1":"2023-10-30","d2":"2026-10-28","v":5.18}]},
          "mark": {"type": "rule", "color": "#666666", "strokeWidth": 1.5},
          "encoding": {"x": {"field": "d1", "type": "temporal", "axis": null}, "x2": {"field": "d2"}, "y": {"field": "v", "type": "quantitative", "title": null}}
        },
        {
          "data": {"values": [{"d1":"2023-10-30","d2":"2026-10-28","v":3.89}]},
          "mark": {"type": "rule", "color": "#8e8e8e", "strokeWidth": 2},
          "encoding": {"x": {"field": "d1", "type": "temporal", "axis": null}, "x2": {"field": "d2"}, "y": {"field": "v", "type": "quantitative", "title": null}}
        },
        {
          "data": {"values": [{"d1":"2025-10-28","d2":"2026-10-28","v":4.52}]},
          "mark": {"type": "rule", "color": "#111111", "strokeWidth": 1, "strokeDash": [2, 2]},
          "encoding": {"x": {"field": "d1", "type": "temporal", "axis": null}, "x2": {"field": "d2"}, "y": {"field": "v", "type": "quantitative", "title": null}}
        },
        {
          "data": {"name": "t30"},
          "mark": {"type": "bar", "width": 3},
          "encoding": {
            "x": {"field": "d", "type": "temporal", "axis": null},
            "y": {"field": "o", "type": "quantitative", "title": null},
            "y2": {"field": "c"},
            "color": {"condition": {"test": "datum.c >= datum.o", "value": "#9a9ae4"}, "value": "#8c8c8c"}
          }
        },
        {
          "data": {"name": "t30"},
          "mark": {"type": "rule", "strokeWidth": 1},
          "encoding": {
            "x": {"field": "d", "type": "temporal", "axis": null},
            "y": {"field": "l", "type": "quantitative", "title": null},
            "y2": {"field": "h"},
            "color": {"condition": {"test": "datum.c >= datum.o", "value": "#1c1c8c"}, "value": "#1a1a1a"}
          }
        },
        {
          "data": {"values": [{"d":"2022-07-06","v":5.837,"t":"U.S. 30-year Treasury yield"}]},
          "mark": {"type": "text", "align": "left", "baseline": "alphabetic", "fontSize": 15.4, "fontWeight": "bold", "color": "#151515"},
          "encoding": {"x": {"field": "d", "type": "temporal", "axis": null}, "y": {"field": "v", "type": "quantitative", "title": null}, "text": {"field": "t"}}
        },
        {
          "data": {"values": [
            {"d":"2024-07-03","v":5.45,"t":">5.18%: Too hot = inflation worries"},
            {"d":"2024-07-03","v":3.705,"t":"<3.89%: Too cold = recession worries"}
          ]},
          "mark": {"type": "text", "align": "left", "baseline": "middle", "fontSize": 15.2},
          "encoding": {"x": {"field": "d", "type": "temporal", "axis": null}, "y": {"field": "v", "type": "quantitative", "title": null}, "text": {"field": "t"}}
        },
        {
          "data": {"values": [{"d":"2023-11-15","v":5.18,"t":"5.18"}]},
          "mark": {"type": "text", "align": "center", "baseline": "bottom", "dy": -2, "fontSize": 13.5},
          "encoding": {"x": {"field": "d", "type": "temporal", "axis": null}, "y": {"field": "v", "type": "quantitative", "title": null}, "text": {"field": "t"}}
        },
        {
          "data": {"values": [
            {"d":"2026-11-06","v":5.97,"t":"5.97"},
            {"d":"2027-03-02","v":5.97,"t":"161.8%"},
            {"d":"2026-11-06","v":5.00,"t":"5.00"},
            {"d":"2026-11-06","v":4.52,"t":"4.52"},
            {"d":"2026-11-06","v":4.30,"t":"4.30"},
            {"d":"2026-11-06","v":3.89,"t":"End:"},
            {"d":"2027-03-02","v":3.89,"t":"3.89"}
          ]},
          "mark": {"type": "text", "align": "left", "baseline": "middle", "fontSize": 13.5},
          "encoding": {"x": {"field": "d", "type": "temporal", "axis": null}, "y": {"field": "v", "type": "quantitative", "title": null}, "text": {"field": "t"}}
        },
        {
          "data": {"values": [
            {"d":"2026-11-06","v":5.18,"t":"Start:"},
            {"d":"2027-03-23","v":5.18,"t":"5.18"}
          ]},
          "mark": {"type": "text", "align": "left", "baseline": "middle", "fontSize": 13.5, "dy": -5.5},
          "encoding": {"x": {"field": "d", "type": "temporal", "axis": null}, "y": {"field": "v", "type": "quantitative", "title": null}, "text": {"field": "t"}}
        },
        {
          "data": {"values": [{"d":"2026-11-06","v":4.83,"t":"4.83"}]},
          "mark": {"type": "text", "align": "left", "baseline": "middle", "fontSize": 13.5, "dy": 3.5},
          "encoding": {"x": {"field": "d", "type": "temporal", "axis": null}, "y": {"field": "v", "type": "quantitative", "title": null}, "text": {"field": "t"}}
        },
        {
          "data": {"values": [{"d1":"2022-03-31","d2":"2022-06-16","v1":5.03,"v2":5.28}]},
          "mark": {"type": "rect", "color": "#0c0c6e"},
          "encoding": {"x": {"field": "d1", "type": "temporal", "axis": null}, "x2": {"field": "d2"}, "y": {"field": "v1", "type": "quantitative", "title": null}, "y2": {"field": "v2"}}
        },
        {
          "data": {"values": [{"d":"2022-05-08","v":5.15,"t":"5.1"}]},
          "mark": {"type": "text", "align": "center", "baseline": "middle", "fontSize": 13, "fontWeight": "bold", "color": "white"},
          "encoding": {"x": {"field": "d", "type": "temporal", "axis": null}, "y": {"field": "v", "type": "quantitative", "title": null}, "text": {"field": "t"}}
        }
      ]
    },
    {
      "width": 674,
      "height": 241,
      "layer": [
        {
          "data": {"values": [
            {"d1":"2023-11-02","d2":"2026-09-21","v1":4.80,"v2":5.01,"z":"hot"},
            {"d1":"2026-05-28","d2":"2026-09-18","v1":5.79,"v2":5.89,"z":"hot"},
            {"d1":"2026-04-14","d2":"2026-09-21","v1":4.22,"v2":4.35,"z":"cold"},
            {"d1":"2023-04-22","d2":"2026-09-21","v1":3.59,"v2":3.85,"z":"cold"}
          ]},
          "mark": {"type": "rect"},
          "encoding": {
            "x": {"field": "d1", "type": "temporal", "title": null, "scale": {"domain": [{"year":2022,"month":6,"date":19}, {"year":2027,"month":10,"date":25}], "nice": false, "padding": 0},
                  "axis": {"values": [{"year":2022,"month":8,"date":7},{"year":2023,"month":7,"date":21},{"year":2024,"month":7,"date":17},{"year":2025,"month":7,"date":19},{"year":2026,"month":7,"date":18},{"year":2027,"month":7,"date":18}], "format": "%Y", "ticks": false, "domain": false, "grid": false, "title": null, "labelPadding": 3, "labelFontSize": 12.5, "labelFont": "Open Sans", "labelColor": "#202020", "labelOverlap": false, "labelFlush": false}},
            "x2": {"field": "d2"},
            "y": {"field": "v1", "type": "quantitative", "title": null, "scale": {"domain": [2.32, 6.30], "nice": false, "zero": false, "padding": 0},
                  "axis": {"values": [3.0,4.0,5.0,5.7,6.0], "labelExpr": "datum.value == 5.7 ? '2.5' : format(datum.value, '.1f')", "tickSize": 3, "tickColor": "#a8a8a8", "labelPadding": 2, "domain": false, "grid": false, "title": null, "labelFontSize": 13, "labelFont": "Open Sans", "labelColor": "#202020", "labelOverlap": false}},
            "y2": {"field": "v2"},
            "color": {"field": "z", "type": "nominal", "scale": {"domain": ["hot","cold"], "range": ["#f7cbd3","#c9c9f7"]}, "legend": null}
          }
        },
        {
          "data": {"values": [{"d":"2023-01-01"},{"d":"2024-01-01"},{"d":"2025-01-01"},{"d":"2026-01-01"},{"d":"2027-01-01"}]},
          "mark": {"type": "rule", "color": "#c4c4c4", "strokeWidth": 1.5},
          "encoding": {"x": {"field": "d", "type": "temporal", "title": null}, "y": {"datum": 2.32, "title": null}, "y2": {"datum": 2.04}}
        },
        {
          "data": {"values": [{"d1":"2022-03-07","d2":"2027-10-25","v1":2.034,"v2":10.28}]},
          "mark": {"type": "rect", "fill": null, "fillOpacity": 0, "stroke": "#c6c6c6", "strokeWidth": 1.5},
          "encoding": {"x": {"field": "d1", "type": "temporal", "title": null}, "x2": {"field": "d2"}, "y": {"field": "v1", "type": "quantitative", "title": null}, "y2": {"field": "v2"}}
        },
        {
          "data": {"values": [{"d1":"2024-07-06","d2":"2026-10-28","v":5.89}]},
          "mark": {"type": "rule", "color": "#ababab", "strokeWidth": 2},
          "encoding": {"x": {"field": "d1", "type": "temporal", "title": null}, "x2": {"field": "d2"}, "y": {"field": "v", "type": "quantitative", "title": null}}
        },
        {
          "data": {"values": [{"d1":"2023-10-30","d2":"2026-10-28","v":5.01}]},
          "mark": {"type": "rule", "color": "#666666", "strokeWidth": 1.5},
          "encoding": {"x": {"field": "d1", "type": "temporal", "title": null}, "x2": {"field": "d2"}, "y": {"field": "v", "type": "quantitative", "title": null}}
        },
        {
          "data": {"values": [{"d1":"2023-10-30","d2":"2026-10-28","v":3.59}]},
          "mark": {"type": "rule", "color": "#666666", "strokeWidth": 1.5},
          "encoding": {"x": {"field": "d1", "type": "temporal", "title": null}, "x2": {"field": "d2"}, "y": {"field": "v", "type": "quantitative", "title": null}}
        },
        {
          "data": {"values": [
            {"d1":"2026-05-25","d2":"2026-10-28","v":4.68},
            {"d1":"2026-07-04","d2":"2026-10-28","v":4.35},
            {"d1":"2026-04-14","d2":"2026-10-28","v":4.22}
          ]},
          "mark": {"type": "rule", "color": "#111111", "strokeWidth": 1, "strokeDash": [2, 2]},
          "encoding": {"x": {"field": "d1", "type": "temporal", "title": null}, "x2": {"field": "d2"}, "y": {"field": "v", "type": "quantitative", "title": null}}
        },
        {
          "data": {"name": "t10"},
          "mark": {"type": "bar", "width": 3, "color": "#9a9ae4"},
          "encoding": {
            "x": {"field": "d", "type": "temporal", "title": null},
            "y": {"field": "o", "type": "quantitative", "title": null},
            "y2": {"field": "c"}
          }
        },
        {
          "data": {"name": "t10"},
          "mark": {"type": "rule", "strokeWidth": 1, "color": "#1c1c8c"},
          "encoding": {
            "x": {"field": "d", "type": "temporal", "title": null},
            "y": {"field": "l", "type": "quantitative", "title": null},
            "y2": {"field": "h"}
          }
        },
        {
          "data": {"values": [{"d":"2022-07-06","v":6.024,"t":"U.S. 10-year Treasury yield"}]},
          "mark": {"type": "text", "align": "left", "baseline": "alphabetic", "fontSize": 15.4, "fontWeight": "bold", "color": "#151515"},
          "encoding": {"x": {"field": "d", "type": "temporal", "title": null}, "y": {"field": "v", "type": "quantitative", "title": null}, "text": {"field": "t"}}
        },
        {
          "data": {"values": [
            {"d":"2024-07-03","v":5.20,"t":">5.0%: Too hot = inflation worries"},
            {"d":"2024-07-03","v":3.30,"t":"<3.6%: Too cold = recession worries"}
          ]},
          "mark": {"type": "text", "align": "left", "baseline": "middle", "fontSize": 15.2},
          "encoding": {"x": {"field": "d", "type": "temporal", "title": null}, "y": {"field": "v", "type": "quantitative", "title": null}, "text": {"field": "t"}}
        },
        {
          "data": {"values": [{"d":"2023-10-22","v":5.01,"t":"5.01"}]},
          "mark": {"type": "text", "align": "center", "baseline": "bottom", "dy": -1, "fontSize": 13.5},
          "encoding": {"x": {"field": "d", "type": "temporal", "title": null}, "y": {"field": "v", "type": "quantitative", "title": null}, "text": {"field": "t"}}
        },
        {
          "data": {"values": [
            {"d":"2026-11-06","v":5.89,"t":"5.89"},
            {"d":"2027-03-09","v":5.89,"t":"161.8%"},
            {"d":"2026-11-06","v":5.01,"t":"Start:"},
            {"d":"2027-03-31","v":5.01,"t":"5.01"},
            {"d":"2026-11-06","v":4.80,"t":"4.80"},
            {"d":"2026-11-06","v":4.35,"t":"4.35"},
            {"d":"2026-11-06","v":3.85,"t":"3.85"},
            {"d":"2026-11-06","v":3.59,"t":"End:"},
            {"d":"2027-03-09","v":3.59,"t":"3.59"}
          ]},
          "mark": {"type": "text", "align": "left", "baseline": "middle", "fontSize": 13.5},
          "encoding": {"x": {"field": "d", "type": "temporal", "title": null}, "y": {"field": "v", "type": "quantitative", "title": null}, "text": {"field": "t"}}
        },
        {
          "data": {"values": [
            {"d":"2026-11-06","v":4.68,"t":"4.68"},
            {"d":"2026-11-06","v":4.22,"t":"4.22"}
          ]},
          "mark": {"type": "text", "align": "left", "baseline": "middle", "fontSize": 13.5, "dy": 3},
          "encoding": {"x": {"field": "d", "type": "temporal", "title": null}, "y": {"field": "v", "type": "quantitative", "title": null}, "text": {"field": "t"}}
        },
        {
          "data": {"values": [{"d1":"2022-03-31","d2":"2022-06-16","v1":4.53,"v2":4.74}]},
          "mark": {"type": "rect", "color": "#0c0c6e"},
          "encoding": {"x": {"field": "d1", "type": "temporal", "title": null}, "x2": {"field": "d2"}, "y": {"field": "v1", "type": "quantitative", "title": null}, "y2": {"field": "v2"}}
        },
        {
          "data": {"values": [{"d":"2022-05-08","v":4.64,"t":"4.7"}]},
          "mark": {"type": "text", "align": "center", "baseline": "middle", "fontSize": 13, "fontWeight": "bold", "color": "white"},
          "encoding": {"x": {"field": "d", "type": "temporal", "title": null}, "y": {"field": "v", "type": "quantitative", "title": null}, "text": {"field": "t"}}
        }
      ]
    }
  ]
}
